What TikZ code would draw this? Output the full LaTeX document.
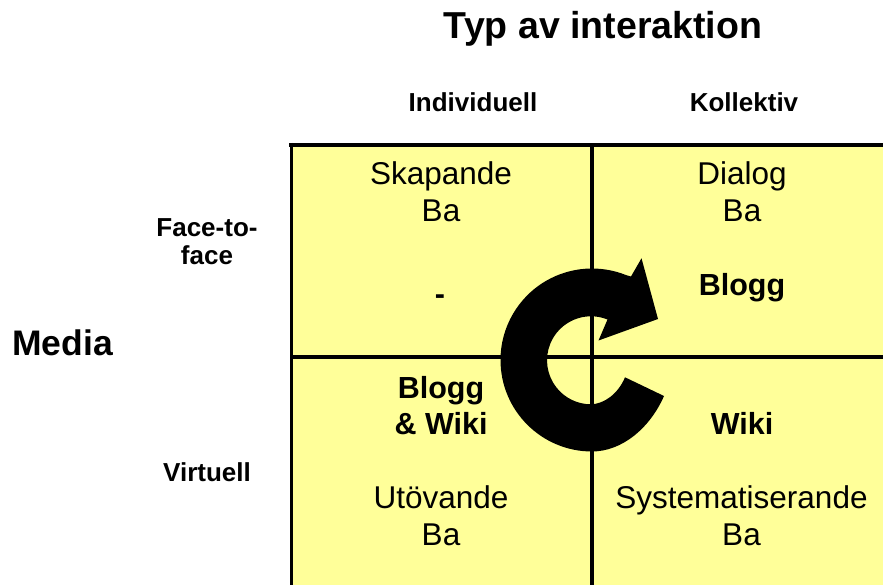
\documentclass[tikz,border=0pt]{standalone}
\usepackage{fontspec}
\setmainfont{Liberation Sans}
\definecolor{cellyellow}{HTML}{FFFF99}
\tikzset{
  gridline/.style={line width=4.5pt, black},
  head/.style={font=\bfseries\fontsize{26}{30}\selectfont, anchor=base, inner sep=0pt},
  celltxt/.style={font=\fontsize{31.5}{36}\selectfont, anchor=base, inner sep=0pt},
  cellbold/.style={font=\bfseries\fontsize{30.5}{36}\selectfont, anchor=base, inner sep=0pt},
  bigtxt/.style={font=\bfseries\fontsize{37.5}{40}\selectfont, anchor=base, inner sep=0pt},
}
\begin{document}
\begin{tikzpicture}[x=1pt,y=-1pt]
\useasboundingbox (0,0) rectangle (883,585);
% cells
\fill[cellyellow] (291,145) rectangle (883,585);
% grid
\draw[gridline] (289,145) -- (883,145);
\draw[line width=3.5pt] (291.5,143) -- (291.5,585);
\draw[gridline] (592,145) -- (592,585);
\draw[gridline] (291,357) -- (883,357);
% titles
\node[bigtxt] (title) at (603,38.3) {Typ av interaktion};
\node[head] (indiv) at (473,111.7) {Individuell};
\node[head] (koll) at (744,111.7) {Kollektiv};
\node[head] (f2f1) at (207,236.7) {Face-to-};
\node[head] (f2f2) at (207,265) {face};
\node[bigtxt, font=\bfseries\fontsize{35.5}{40}\selectfont] (media) at (62.5,355) {Media};
\node[head] (virt) at (207,481.7) {Virtuell};
% cell texts
\node[celltxt] (skap) at (441,185) {Skapande};
\node[celltxt] (skapba) at (441,221.7) {Ba};
\node[celltxt] (dial) at (742,185) {Dialog};
\node[celltxt] (dialba) at (742,221.7) {Ba};
\node[cellbold] (dash) at (440,305) {-};
\node[cellbold] (blogg1) at (742,295) {Blogg};
\node[cellbold] (blogg2) at (441,398) {Blogg};
\node[cellbold] (bw) at (441,434) {\& Wiki};
\node[cellbold] (wiki) at (742,434) {Wiki};
\node[celltxt] (utov) at (441,508) {Utövande};
\node[celltxt] (utovba) at (441,545) {Ba};
\node[celltxt] (syst) at (741.5,508) {Systematiserande};
\node[celltxt] (systba) at (741.5,545) {Ba};
% circular arrow
\fill[black] (664,396) .. controls (650,428) and (622,451.5) .. (592,451.5)
  arc[start angle=90, end angle=292, radius=91.5]
  -- (631,276.5) -- (641.5,258.3) -- (658,319) -- (598.5,340.5) -- (607.5,319.5)
  arc[start angle=292, end angle=90, radius=44]
  .. controls (604,404) and (618,394) .. (625,377.3) -- cycle;
\end{tikzpicture}
\end{document}
